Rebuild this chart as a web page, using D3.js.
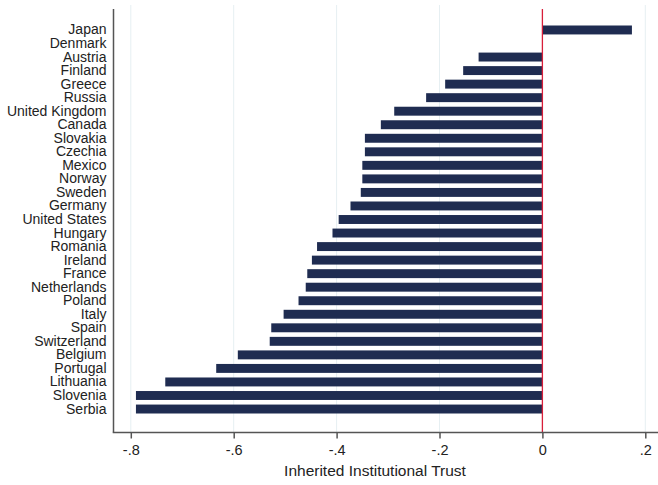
<!DOCTYPE html>
<html>
<head>
<meta charset="utf-8">
<script src="https://cdn.jsdelivr.net/npm/d3@7"></script>
<style>
  html, body { margin: 0; padding: 0; background: #fff; }
  svg { display: block; }
  text { font-family: "Liberation Sans", Arial, Helvetica, sans-serif; fill: #222; }
</style>
</head>
<body>
<svg id="chart" width="658" height="485"></svg>
<script>
// Countries, top to bottom
const countries = [
  "Japan", "Denmark", "Austria", "Finland", "Greece", "Russia", "United Kingdom",
  "Canada", "Slovakia", "Czechia", "Mexico", "Norway", "Sweden", "Germany",
  "United States", "Hungary", "Romania", "Ireland", "France", "Netherlands",
  "Poland", "Italy", "Spain", "Switzerland", "Belgium", "Portugal", "Lithuania",
  "Slovenia", "Serbia"
];
// Inherited institutional trust (relative to Denmark = 0)
const trust = [
  0.174, 0, -0.124, -0.154, -0.189, -0.226, -0.288,
  -0.314, -0.345, -0.345, -0.350, -0.350, -0.353, -0.373,
  -0.396, -0.408, -0.438, -0.448, -0.457, -0.460,
  -0.474, -0.503, -0.527, -0.530, -0.592, -0.634, -0.733,
  -0.790, -0.790
];
const xTicks = [-0.8, -0.6, -0.4, -0.2, 0, 0.2];
const xTickLabels = ["-.8", "-.6", "-.4", "-.2", "0", ".2"];
const xTitle = "Inherited Institutional Trust";

const svg = d3.select("#chart");
const W = 658, H = 485;
const plotLeft = 113.5, plotTop = 9, axisY = 432.5;

const x = d3.scaleLinear().domain([-0.8, 0.2]).range([130.8, 645.3]);
const y = d3.scaleBand().domain(countries).range([23.2, 415.8]).paddingInner(0.34).paddingOuter(0.17);

// faint vertical gridlines
svg.append("g").selectAll("line")
  .data(xTicks.filter(d => d !== 0))
  .join("line")
  .attr("x1", d => x(d)).attr("x2", d => x(d))
  .attr("y1", 5).attr("y2", axisY)
  .attr("stroke", "#e6eff2").attr("stroke-width", 1);

// bars
svg.append("g").selectAll("rect")
  .data(countries.map((c, i) => ({ c, v: trust[i] })))
  .join("rect")
  .attr("x", d => x(Math.min(0, d.v)))
  .attr("width", d => Math.abs(x(d.v) - x(0)))
  .attr("y", d => y(d.c))
  .attr("height", y.bandwidth())
  .attr("fill", "#1f2c51");

// reference line at zero
svg.append("line")
  .attr("x1", x(0)).attr("x2", x(0))
  .attr("y1", plotTop).attr("y2", axisY)
  .attr("stroke", "#d81e3a").attr("stroke-width", 1.3);

// y axis: country labels
const yAxis = svg.append("g").attr("transform", `translate(${plotLeft},0)`)
  .call(d3.axisLeft(y).tickSize(0).tickPadding(7));
yAxis.select(".domain").remove();
yAxis.selectAll("text").style("font-size", "14px").attr("fill", "#222");
svg.append("line")
  .attr("x1", plotLeft).attr("x2", plotLeft)
  .attr("y1", plotTop).attr("y2", axisY)
  .attr("stroke", "#555").attr("stroke-width", 1.5);

// x axis
const xAxis = svg.append("g").attr("transform", `translate(0,${axisY})`)
  .call(d3.axisBottom(x).tickValues(xTicks).tickFormat((d, i) => xTickLabels[i]).tickSize(6).tickPadding(6).tickSizeOuter(0));
xAxis.select(".domain").remove();
xAxis.selectAll(".tick line").attr("stroke", "#555").attr("stroke-width", 1.5);
xAxis.selectAll("text").style("font-size", "14.5px").attr("fill", "#222");
svg.append("line")
  .attr("x1", plotLeft - 0.75).attr("x2", W)
  .attr("y1", axisY).attr("y2", axisY)
  .attr("stroke", "#555").attr("stroke-width", 1.5);

// x title
svg.append("text")
  .attr("x", 375).attr("y", 476)
  .attr("text-anchor", "middle")
  .style("font-size", "15.5px")
  .text(xTitle);
</script>
</body>
</html>
